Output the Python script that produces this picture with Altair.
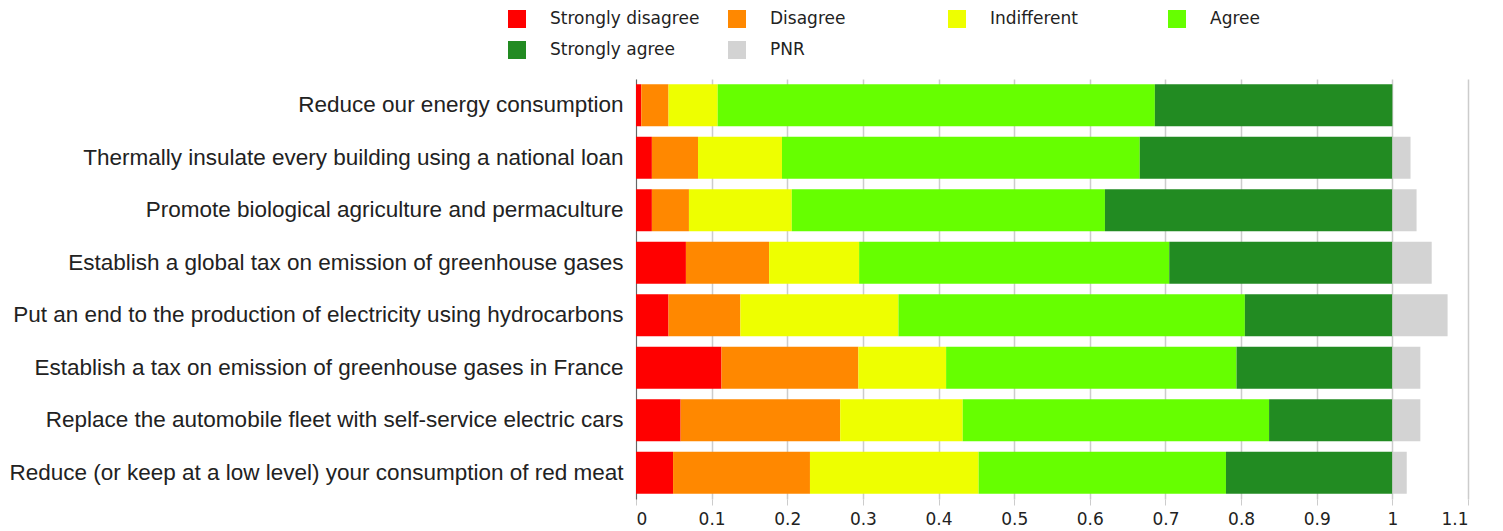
import altair as alt
import pandas as pd

questions = [
    "Reduce our energy consumption",
    "Thermally insulate every building using a national loan",
    "Promote biological agriculture and permaculture",
    "Establish a global tax on emission of greenhouse gases",
    "Put an end to the production of electricity using hydrocarbons",
    "Establish a tax on emission of greenhouse gases in France",
    "Replace the automobile fleet with self-service electric cars",
    "Reduce (or keep at a low level) your consumption of red meat",
]

categories = ["Strongly disagree", "Disagree", "Indifferent", "Agree", "Strongly agree", "PNR"]
colors = ["#ff0000", "#ff8800", "#eeff00", "#66ff00", "#228b22", "#d3d3d3"]

strongly_disagree = [0.007, 0.021, 0.021, 0.066, 0.043, 0.113, 0.059, 0.049]
disagree = [0.036, 0.061, 0.049, 0.110, 0.095, 0.181, 0.211, 0.181]
indifferent = [0.065, 0.111, 0.136, 0.119, 0.209, 0.116, 0.162, 0.223]
agree = [0.578, 0.473, 0.414, 0.410, 0.458, 0.384, 0.405, 0.327]
strongly_agree = [0.314, 0.334, 0.380, 0.295, 0.195, 0.206, 0.163, 0.220]
pnr = [0.0, 0.024, 0.032, 0.052, 0.073, 0.037, 0.037, 0.019]

tick_values = [0, 0.1, 0.2, 0.3, 0.4, 0.5, 0.6, 0.7, 0.8, 0.9, 1, 1.1]

series = [strongly_disagree, disagree, indifferent, agree, strongly_agree, pnr]
rows = []
for ci, (cat, vals) in enumerate(zip(categories, series)):
    for q, v in zip(questions, vals):
        rows.append({"question": q, "answer": cat, "value": v, "order": ci})
df = pd.DataFrame(rows)

chart = (
    alt.Chart(df)
    .mark_bar()
    .encode(
        y=alt.Y(
            "question:N",
            sort=questions,
            title=None,
            scale=alt.Scale(paddingInner=0.2, paddingOuter=0.1),
            axis=alt.Axis(
                ticks=False,
                domain=True,
                domainColor="#666666",
                domainWidth=1,
                labelFont="Liberation Sans",
                labelFontSize=22.5,
                labelColor="#222222",
                labelPadding=13,
                labelLimit=800,
                grid=False,
            ),
        ),
        x=alt.X(
            "value:Q",
            stack="zero",
            title=None,
            scale=alt.Scale(domain=[0, 1.1], nice=False),
            axis=alt.Axis(
                values=tick_values,
                format="~g",
                grid=True,
                gridColor="#cccccc",
                gridWidth=1.5,
                domain=False,
                ticks=True,
                tickColor="#cccccc",
                tickSize=6,
                labelFont="DejaVu Sans",
                labelFontSize=17,
                labelColor="#222222",
                labelPadding=6,
            ),
        ),
        color=alt.Color(
            "answer:N",
            scale=alt.Scale(domain=categories, range=colors),
            legend=alt.Legend(
                title=None,
                orient="none",
                direction="horizontal",
                legendX=-128,
                legendY=-69,
                columns=4,
                gridAlign="all",
                columnPadding=28,
                rowPadding=13,
                symbolType="square",
                symbolSize=324,
                symbolStrokeWidth=0,
                symbolOpacity=1,
                labelOffset=24,
                labelFont="DejaVu Sans",
                labelFontSize=17,
                labelColor="#222222",
                labelLimit=300,
            ),
        ),
        order=alt.Order("order:Q", sort="ascending"),
    )
    .properties(
        width=832,
        height=420,
        padding={"left": 0, "top": 2, "right": 5, "bottom": 5},
    )
    .configure_view(stroke=None)
)

chart.save("out.html", embed_options={"renderer": "svg", "actions": False})
